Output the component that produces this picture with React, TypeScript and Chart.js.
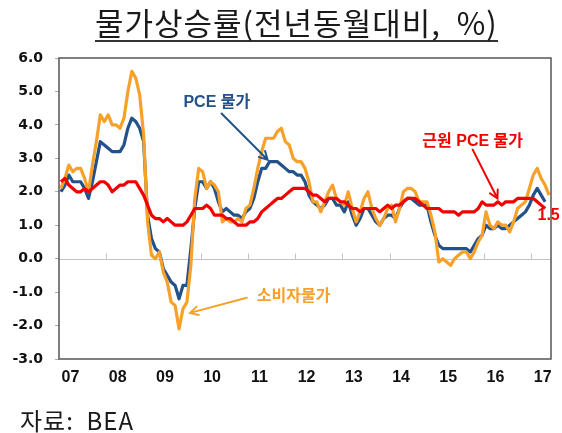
import { useEffect, useRef } from "react";
import { Chart, registerables } from "chart.js";

Chart.register(...registerables);

// x index 0 = Jan 2007 (monthly)
const YEAR_LABELS = ["07", "08", "09", "10", "11", "12", "13", "14", "15", "16", "17"];
const Y_TICKS = [-3, -2, -1, 0, 1, 2, 3, 4, 5, 6];

// 소비자물가 (CPI), Jan 2007 – May 2017
const CPI = [
  2.1, 2.4, 2.8, 2.6, 2.7, 2.7, 2.4, 2.0, 2.8, 3.5, 4.3, 4.1,
  4.3, 4.0, 4.0, 3.9, 4.2, 5.0, 5.6, 5.4, 4.9, 3.7, 1.1, 0.1,
  0.0, 0.2, -0.4, -0.7, -1.3, -1.4, -2.1, -1.5, -1.3, -0.2, 1.8, 2.7,
  2.6, 2.1, 2.3, 2.2, 2.0, 1.1, 1.2, 1.1, 1.1, 1.2, 1.1, 1.5,
  1.6, 2.1, 2.7, 3.2, 3.6, 3.6, 3.6, 3.8, 3.9, 3.5, 3.4, 3.0,
  2.9, 2.9, 2.7, 2.3, 1.7, 1.7, 1.4, 1.7, 2.0, 2.2, 1.8, 1.7,
  1.6, 2.0, 1.5, 1.1, 1.4, 1.8, 2.0, 1.5, 1.2, 1.0, 1.2, 1.5,
  1.6, 1.1, 1.5, 2.0, 2.1, 2.1, 2.0, 1.7, 1.7, 1.7, 1.3, 0.8,
  -0.1, 0.0, -0.1, -0.2, 0.0, 0.1, 0.2, 0.2, 0.0, 0.2, 0.5, 0.7,
  1.4, 1.0, 0.9, 1.1, 1.0, 1.0, 0.8, 1.1, 1.5, 1.6, 1.7, 2.1,
  2.5, 2.7, 2.4, 2.2, 1.9,
];

// PCE 물가, Jan 2007 – Apr 2017
const PCE = [
  2.0, 2.2, 2.5, 2.3, 2.3, 2.3, 2.1, 1.8, 2.3, 2.9, 3.5, 3.4,
  3.3, 3.2, 3.2, 3.2, 3.4, 3.9, 4.2, 4.1, 3.9, 3.5, 1.3, 0.6,
  0.3, 0.2, -0.3, -0.5, -0.7, -0.8, -1.2, -0.8, -0.8, 0.3, 1.5, 2.3,
  2.3, 2.1, 2.3, 2.1, 1.7, 1.4, 1.5, 1.4, 1.3, 1.3, 1.2, 1.4,
  1.5, 1.8, 2.3, 2.7, 2.7, 2.9, 2.9, 2.9, 2.8, 2.7, 2.6, 2.6,
  2.5, 2.5, 2.3, 1.9, 1.7, 1.6, 1.5, 1.6, 1.8, 1.8, 1.6, 1.6,
  1.4, 1.7, 1.3, 1.0, 1.2, 1.5, 1.5, 1.3, 1.1, 1.0, 1.2, 1.3,
  1.3, 1.2, 1.5, 1.7, 1.8, 1.8, 1.7, 1.6, 1.6, 1.6, 1.1, 0.7,
  0.4, 0.3, 0.3, 0.3, 0.3, 0.3, 0.3, 0.3, 0.2, 0.4, 0.6, 0.7,
  1.0, 0.9, 0.9, 1.0, 0.9, 0.9, 1.0, 1.1, 1.2, 1.3, 1.4, 1.6,
  1.9, 2.1, 1.9, 1.7,
];

// 근원 PCE 물가, Jan 2007 – Apr 2017
const CORE_PCE = [
  2.3, 2.4, 2.2, 2.1, 2.0, 2.0, 2.1, 2.0, 2.1, 2.2, 2.3, 2.3,
  2.2, 2.0, 2.1, 2.2, 2.2, 2.3, 2.3, 2.3, 2.1, 1.9, 1.6, 1.3,
  1.2, 1.2, 1.1, 1.2, 1.1, 1.0, 1.0, 1.0, 1.1, 1.3, 1.5, 1.5,
  1.5, 1.6, 1.5, 1.3, 1.3, 1.3, 1.2, 1.2, 1.1, 1.0, 1.0, 1.0,
  1.1, 1.1, 1.2, 1.4, 1.5, 1.6, 1.7, 1.8, 1.8, 1.9, 2.0, 2.1,
  2.1, 2.1, 2.1, 2.0, 1.9, 1.9, 1.8, 1.7, 1.8, 1.8, 1.8, 1.7,
  1.7, 1.6, 1.5, 1.5, 1.4, 1.5, 1.5, 1.5, 1.5, 1.4, 1.5, 1.6,
  1.5, 1.6, 1.6, 1.7, 1.8, 1.8, 1.8, 1.7, 1.6, 1.5, 1.5, 1.5,
  1.5, 1.4, 1.4, 1.4, 1.4, 1.3, 1.4, 1.4, 1.4, 1.4, 1.5, 1.7,
  1.6, 1.6, 1.6, 1.7, 1.6, 1.7, 1.7, 1.7, 1.8, 1.8, 1.8, 1.8,
  1.8, 1.7, 1.6, 1.5,
];

const ORANGE = "#F8A12A";
const BLUE = "#23528A";
const RED = "#F20000";

const LABEL_OFFSET = 2.4; // year label sits ~2.4 months into each year

// annotation anchors in data units [month index, value]
const NOTES = [
  { text: "PCE 물가", color: BLUE, at: [39.6, 4.67], from: [40.8, 4.34], to: [52.5, 2.96] },
  { text: "근원 PCE 물가", color: RED, at: [104.6, 3.5], from: [104.6, 3.26], to: [110.9, 1.8] },
  { text: "소비자물가", color: ORANGE, at: [59.1, -1.14], from: [47.2, -1.17], to: [32.8, -1.62] },
  { text: "1.5", color: RED, at: [123.9, 1.29] },
];

const toPoints = (arr: number[]) => arr.map((y, i) => ({ x: i, y }));

const NOTE_FONT = 'bold 16px "Liberation Sans", "Noto Sans CJK KR", sans-serif';

const decorPlugin = {
  id: "decor",
  beforeDatasetsDraw(chart: any) {
    const { ctx, chartArea: a, scales } = chart;
    const x = scales.x;
    const y = scales.y;
    const y0 = Math.round(y.getPixelForValue(0)) + 0.5;
    ctx.save();
    ctx.strokeStyle = "#c4c4c4";
    ctx.lineWidth = 1;
    ctx.beginPath();
    ctx.moveTo(a.left, y0);
    ctx.lineTo(a.right, y0);
    for (let k = 1; k < YEAR_LABELS.length; k++) {
      const px = Math.round(x.getPixelForValue(12 * k - 0.5)) + 0.5;
      ctx.moveTo(px, y0);
      ctx.lineTo(px, y0 - 6);
    }
    ctx.stroke();
    ctx.restore();
  },
  afterDatasetsDraw(chart: any) {
    const { ctx, chartArea: a, scales } = chart;
    const x = scales.x;
    const y = scales.y;
    ctx.save();
    ctx.strokeStyle = "#555";
    ctx.lineWidth = 1.5;
    ctx.strokeRect(a.left, a.top, a.right - a.left, a.bottom - a.top);

    ctx.font = NOTE_FONT;
    ctx.textAlign = "center";
    ctx.textBaseline = "middle";
    for (const n of NOTES) {
      ctx.fillStyle = n.color;
      ctx.fillText(n.text, x.getPixelForValue(n.at[0]), y.getPixelForValue(n.at[1]));
      if (n.from && n.to) {
        const x1 = x.getPixelForValue(n.from[0]);
        const y1 = y.getPixelForValue(n.from[1]);
        const x2 = x.getPixelForValue(n.to[0]);
        const y2 = y.getPixelForValue(n.to[1]);
        ctx.strokeStyle = n.color;
        ctx.lineWidth = 2;
        ctx.lineCap = "round";
        ctx.beginPath();
        ctx.moveTo(x1, y1);
        ctx.lineTo(x2, y2);
        const ang = Math.atan2(y2 - y1, x2 - x1);
        const hl = 9;
        ctx.moveTo(x2 - hl * Math.cos(ang - 0.5), y2 - hl * Math.sin(ang - 0.5));
        ctx.lineTo(x2, y2);
        ctx.lineTo(x2 - hl * Math.cos(ang + 0.5), y2 - hl * Math.sin(ang + 0.5));
        ctx.stroke();
      }
    }
    ctx.restore();
  },
};

export default function App() {
  const ref = useRef<HTMLCanvasElement | null>(null);

  useEffect(() => {
    if (!ref.current) return;
    const line = (label: string, data: number[], color: string) => ({
      label,
      data: toPoints(data),
      borderColor: color,
      backgroundColor: color,
      borderWidth: 3.2,
      pointRadius: 0,
      tension: 0,
      borderJoinStyle: "round" as const,
      fill: false,
    });
    const chart = new Chart(ref.current, {
      type: "line",
      data: {
        datasets: [
          line("근원 PCE 물가", CORE_PCE, RED),
          line("소비자물가", CPI, ORANGE),
          line("PCE 물가", PCE, BLUE),
        ].map((d, i) => ({ ...d, order: i })),
      },
      options: {
        animation: false,
        responsive: false,
        devicePixelRatio: 1,
        layout: { padding: { left: 0, top: 58, right: 11, bottom: 0 } },
        plugins: { legend: { display: false }, tooltip: { enabled: false } },
        scales: {
          x: {
            type: "linear",
            min: -0.5,
            max: 124.5,
            afterFit: (s: any) => {
              s.height = 74;
            },
            afterBuildTicks: (s: any) => {
              s.ticks = YEAR_LABELS.map((_, k) => ({ value: 12 * k + LABEL_OFFSET }));
            },
            grid: { display: false, drawTicks: false },
            border: { display: false },
            ticks: {
              autoSkip: false,
              maxRotation: 0,
              padding: 9,
              color: "#111",
              font: { family: '"Liberation Sans", Arial, sans-serif', size: 16, weight: "bold" },
              callback: (_v: any, i: number) => YEAR_LABELS[i],
            },
          },
          y: {
            min: -3,
            max: 6,
            afterFit: (s: any) => {
              s.width = 59;
            },
            afterBuildTicks: (s: any) => {
              s.ticks = Y_TICKS.map((v) => ({ value: v }));
            },
            grid: { drawOnChartArea: false, drawTicks: true, tickLength: 4, tickColor: "#aaa" },
            border: { display: false },
            ticks: {
              padding: 12,
              color: "#111",
              font: { family: '"DejaVu Sans", sans-serif', size: 14, weight: "bold" },
              callback: (v: any) => Number(v).toFixed(1),
            },
          },
        },
      },
      plugins: [decorPlugin],
    });
    return () => chart.destroy();
  }, []);

  return (
    <div style={{ position: "fixed", left: 0, top: 0, width: 562, height: 433, background: "#fff" }}>
      <div
        style={{
          position: "absolute",
          left: 95,
          top: 4,
          fontFamily: '"Noto Sans CJK KR", sans-serif',
          fontSize: 31,
          letterSpacing: "1px",
          lineHeight: "35px",
          color: "#1a1a1a",
          whiteSpace: "pre",
          paddingBottom: 1,
          borderBottom: "2px solid #333",
        }}
      >
        물가상승률(전년동월대비,  %)
      </div>
      <canvas ref={ref} width={562} height={433} style={{ position: "absolute", left: 0, top: 0 }} />
      <div
        style={{
          position: "absolute",
          left: 20,
          top: 406,
          fontFamily: '"Noto Sans CJK KR", sans-serif',
          fontSize: 24,
          letterSpacing: "1px",
          lineHeight: "27px",
          color: "#1a1a1a",
          whiteSpace: "pre",
        }}
      >
        자료:  BEA
      </div>
    </div>
  );
}
